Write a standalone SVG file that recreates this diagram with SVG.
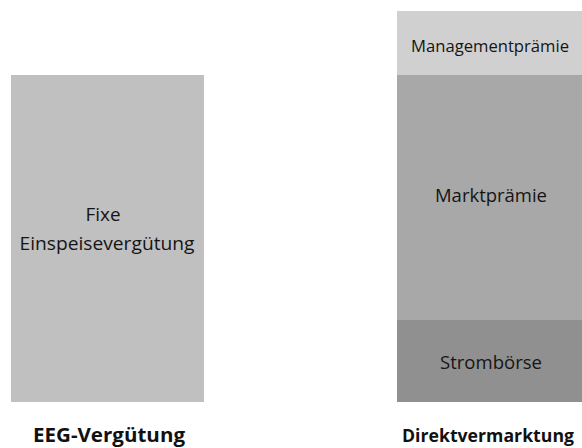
<svg xmlns="http://www.w3.org/2000/svg" width="582" height="448" viewBox="0 0 582 448">
<style>
.t{font-family:"Open Sans","Noto Sans","Liberation Sans",sans-serif;font-size:19px;fill:#151515;text-anchor:middle}
.b{font-family:"Open Sans","Noto Sans","Liberation Sans",sans-serif;font-size:20px;font-weight:bold;fill:#111;text-anchor:middle}
.s{font-size:17px}
.sb{font-size:18px}
</style>
<rect width="582" height="448" fill="#ffffff"/>
<g id="eeg">
<rect x="11" y="75" width="193" height="327" fill="#c0c0c0"/>
<text class="t" x="103" y="221" textLength="35" lengthAdjust="spacingAndGlyphs">Fixe</text>
<text class="t" x="107" y="250" textLength="175" lengthAdjust="spacingAndGlyphs">Einspeisevergütung</text>
</g>
<g id="management">
<rect x="397" y="11" width="185" height="64" fill="#d0d0d0"/>
<text class="t s" x="490" y="52" textLength="158" lengthAdjust="spacingAndGlyphs">Managementprämie</text>
</g>
<g id="markt">
<rect x="397" y="75" width="185" height="245" fill="#a8a8a8"/>
<text class="t" x="491" y="202" textLength="112" lengthAdjust="spacingAndGlyphs">Marktprämie</text>
</g>
<g id="strom">
<rect x="397" y="320" width="185" height="82" fill="#909090"/>
<text class="t" x="491" y="369" textLength="102" lengthAdjust="spacingAndGlyphs">Strombörse</text>
</g>
<g id="labels">
<text class="b" x="109" y="442" textLength="152" lengthAdjust="spacingAndGlyphs">EEG-Vergütung</text>
<text class="b sb" x="488" y="442" textLength="172" lengthAdjust="spacingAndGlyphs">Direktvermarktung</text>
</g>
<g id="connectors"></g>
</svg>
